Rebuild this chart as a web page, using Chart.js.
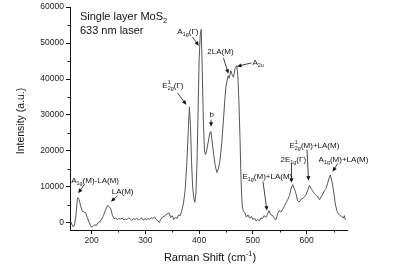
<!DOCTYPE html>
<html>
<head>
<meta charset="utf-8">
<script src="https://cdn.jsdelivr.net/npm/chart.js@4.4.0/dist/chart.umd.min.js"></script>
<style>
  html, body { margin: 0; padding: 0; background: #fff; }
  #wrap { width: 400px; height: 269px; position: relative; }
</style>
</head>
<body>
<div id="wrap"><canvas id="raman"></canvas></div>
<script>
// ── Data ────────────────────────────────────────
const shift = [
  162, 165, 168, 171, 174, 177, 180, 183, 186, 189, 192, 196, 200, 203, 206, 209,
  212, 215, 218, 222, 226, 230, 233, 236, 239, 242, 245, 248, 251, 254, 257, 260,
  263, 266, 269, 272, 275, 278, 281, 284, 287, 290, 293, 296, 299, 302, 305, 308,
  311, 314, 317, 320, 323, 326, 329, 332, 335, 338, 341, 344, 347, 350, 353, 356,
  359, 362, 365, 368, 371, 374, 377, 380, 382, 384, 386, 388, 390, 392, 394, 396,
  398, 400, 402, 404, 406, 408, 410, 412, 414, 417, 420, 422, 424, 427, 430, 433,
  436, 439, 442, 445, 448, 450, 452, 454, 456, 459, 462, 464, 467, 470, 472, 474,
  476, 478, 480, 482, 485, 488, 491, 494, 497, 500, 503, 506, 509, 512, 515, 518,
  521, 524, 527, 530, 533, 537, 540, 543, 546, 549, 552, 556, 559, 562, 565, 568,
  571, 574, 577, 580, 583, 586, 590, 594, 598, 602, 605, 608, 611, 614, 618, 621,
  624, 627, 630, 633, 636, 639, 642, 644, 647, 650, 653, 656, 659, 662, 665, 668,
  670, 672
];
const intensity = [
  200, -1000, -800, 2000, 7000, 6500, 4500, 3200, 3000, 2800, 1500, 0, -1200, -1000, -500, -800,
  0, 200, 800, 2000, 3500, 4800, 4500, 3800, 2000, 1100, 1300, 900, 1200, 1000, 1300, 800,
  1100, 900, 1400, 1000, 700, 1200, 900, 1300, 800, 1000, 1400, 700, 1100, 900, 1200, 1000,
  1400, 1200, 1600, 1000, 600, 100, 1000, 1600, 1800, 2200, 2500, 2800, 1500, 2000, 900, 1500,
  1200, 2200, 2000, 3500, 5500, 9000, 16000, 26000, 32200, 27000, 17000, 10000, 7000, 5700, 8000, 16000,
  30000, 45000, 52000, 53800, 42000, 28000, 20000, 19000, 20000, 22500, 25000, 25400, 23000, 19000, 16000, 14000,
  15000, 17500, 22000, 28000, 34500, 38000, 39500, 40900, 40200, 42300, 41000, 40500, 43000, 43700, 41000, 34000,
  24000, 12000, 5000, 3400, 2800, 1600, 2200, 1300, 1800, 900, 1300, 500, 900, 600, 1400, 1200,
  2000, 1500, 2300, 3400, 2300, 2000, 1100, 900, 2500, 3400, 3000, 3900, 4800, 5700, 6500, 7600,
  9500, 10600, 9500, 8200, 6200, 5800, 6600, 6900, 7600, 9000, 10400, 9600, 8900, 8200, 7600, 7200,
  6400, 7200, 8000, 9000, 9500, 11000, 12500, 13300, 11500, 8900, 5500, 3400, 2500, 2000, 1800, 1300,
  2000, 800
];
const xTicks      = [200, 300, 400, 500, 600];
const xMinorTicks = [250, 350, 450, 550, 650];
const yTicks      = [0, 10000, 20000, 30000, 40000, 50000, 60000];
const yMinorTicks = [5000, 15000, 25000, 35000, 45000, 55000];

// ── Annotations (data coords) ───────────────────
const FONT = "'Liberation Sans', Arial, sans-serif";
const notes = [
  { x: 359.6, y: 52560, parts: [['A', 'n'], ['1g', 'sub'], ['(Γ)', 'n']],                      arrow: [387.5, 51730, 399.6, 49230] },
  { x: 331.6, y: 37560, parts: [['E', 'n'], [['1', '2g'], 'ss'], ['(Γ)', 'n']],               arrow: [359.6, 36170, 376.3, 32830] },
  { x: 415.4, y: 47000, parts: [['2LA(M)', 'n']],                                              arrow: [445.2, 45890, 454.5, 41450] },
  { x: 499.2, y: 43950, parts: [['A', 'n'], ['2u', 'sub']],                                    arrow: [497.4, 44480, 470.4, 43500] },
  { x: 419.2, y: 29500, parts: [['b', 'n']],                                                   arrow: [422.3, 28670, 422.3, 26720] },
  { x: 480.6, y: 12280, parts: [['E', 'n'], ['1g', 'sub'], ['(M)+LA(M)', 'n']],                arrow: [518.8, 11450, 526.2, 3390] },
  { x: 551.4, y: 16950, parts: [['2E', 'n'], ['1g', 'sub'], ['(Γ)', 'n']],                     arrow: [571.8, 16400, 571.8, 11170] },
  { x: 568.1, y: 20890, parts: [['E', 'n'], [['1', '2g'], 'ss'], ['(M)+LA(M)', 'n']],          arrow: [600.7, 20340, 603.5, 11720] },
  { x: 622.1, y: 17000, parts: [['A', 'n'], ['1g', 'sub'], ['(M)+LA(M)', 'n']],                arrow: [657.5, 16450, 648.2, 14230] },
  { x: 162.2, y: 11170, parts: [['A', 'n'], ['1g', 'sub'], ['(M)-LA(M)', 'n']],                arrow: [186.4, 10610, 175.2, 8250] },
  { x: 237.6, y: 8110,  parts: [['LA(M)', 'n']],                                               arrow: [248.4, 7560, 236.1, 5890] },
];
const titleLines = [
  { x: 178.4, y: 56310, parts: [['Single layer MoS', 'n'], ['2', 'sub']] },
  { x: 178.4, y: 52560, parts: [['633 nm laser', 'n']] },
];

function drawRich(ctx, x, y, parts, size) {
  let cx = x;
  ctx.textBaseline = 'alphabetic';
  ctx.textAlign = 'left';
  parts.forEach(([t, m]) => {
    if (m === 'n') {
      ctx.font = size + 'px ' + FONT;
      ctx.fillText(t, cx, y);
      cx += ctx.measureText(t).width;
    } else if (m === 'sub') {
      ctx.font = (size * 0.68) + 'px ' + FONT;
      ctx.fillText(t, cx, y + size * 0.28);
      cx += ctx.measureText(t).width;
    } else if (m === 'sup') {
      ctx.font = (size * 0.68) + 'px ' + FONT;
      ctx.fillText(t, cx, y - size * 0.42);
      cx += ctx.measureText(t).width;
    } else if (m === 'ss') {
      ctx.font = (size * 0.68) + 'px ' + FONT;
      ctx.fillText(t[0], cx, y - size * 0.42);
      ctx.fillText(t[1], cx, y + size * 0.28);
      cx += Math.max(ctx.measureText(t[0]).width, ctx.measureText(t[1]).width);
    }
  });
  return cx;
}

function drawArrow(ctx, x1, y1, x2, y2) {
  const ang = Math.atan2(y2 - y1, x2 - x1);
  const len = 4.5, wid = 2;
  ctx.beginPath();
  ctx.moveTo(x1, y1);
  ctx.lineTo(x2 - Math.cos(ang) * len * 0.8, y2 - Math.sin(ang) * len * 0.8);
  ctx.stroke();
  ctx.beginPath();
  ctx.moveTo(x2, y2);
  ctx.lineTo(x2 - Math.cos(ang) * len - Math.sin(ang) * wid, y2 - Math.sin(ang) * len + Math.cos(ang) * wid);
  ctx.lineTo(x2 - Math.cos(ang) * len + Math.sin(ang) * wid, y2 - Math.sin(ang) * len - Math.cos(ang) * wid);
  ctx.closePath();
  ctx.fill();
}

// ── Plugins ─────────────────────────────────────
const decor = {
  id: 'decor',
  afterDraw(chart) {
    const { ctx, chartArea: a, scales: { x, y } } = chart;
    ctx.save();
    ctx.strokeStyle = '#111';
    ctx.fillStyle = '#111';
    ctx.lineWidth = 1;
    // minor ticks
    ctx.beginPath();
    xMinorTicks.forEach(v => {
      const px = Math.round(x.getPixelForValue(v)) + 0.5;
      ctx.moveTo(px, a.bottom); ctx.lineTo(px, a.bottom + 2.5);
    });
    yMinorTicks.forEach(v => {
      const py = Math.round(y.getPixelForValue(v)) + 0.5;
      ctx.moveTo(a.left - 2.5, py); ctx.lineTo(a.left, py);
    });
    ctx.stroke();

    // title
    titleLines.forEach(t => drawRich(ctx, x.getPixelForValue(t.x), y.getPixelForValue(t.y), t.parts, 11));

    // peak labels
    ctx.lineWidth = 0.8;
    notes.forEach(n => {
      drawRich(ctx, x.getPixelForValue(n.x), y.getPixelForValue(n.y), n.parts, 8);
      const [ax1, ay1, ax2, ay2] = n.arrow;
      drawArrow(ctx, x.getPixelForValue(ax1), y.getPixelForValue(ay1), x.getPixelForValue(ax2), y.getPixelForValue(ay2));
    });

    // axis titles
    const xt = 'Raman Shift (cm';
    ctx.font = '11px ' + FONT;
    const w1 = ctx.measureText(xt).width;
    ctx.font = '7.5px ' + FONT;
    const w2 = ctx.measureText('-1').width;
    ctx.font = '11px ' + FONT;
    const w3 = ctx.measureText(')').width;
    const cx = 210 - (w1 + w2 + w3) / 2;
    drawRich(ctx, cx, 261, [[xt, 'n'], ['-1', 'sup'], [')', 'n']], 11);

    ctx.translate(24, 121);
    ctx.rotate(-Math.PI / 2);
    ctx.font = '10.5px ' + FONT;
    ctx.textAlign = 'center';
    ctx.fillText('Intensity (a.u.)', 0, 0);
    ctx.restore();
  }
};

// ── Chart ───────────────────────────────────────
const points = shift.map((s, i) => ({ x: s, y: intensity[i] }));

new Chart(document.getElementById('raman'), {
  type: 'line',
  data: {
    datasets: [{
      data:        points,
      borderColor: '#555',
      borderWidth: 1,
      pointRadius: 0,
      tension:     0,
      fill:        false,
    }],
  },
  options: {
    responsive:          true,
    maintainAspectRatio: false,
    animation:           false,
    events:              [],
    layout: { padding: { top: 7, right: 53, left: 0, bottom: 0 } },
    plugins: { legend: { display: false }, tooltip: { enabled: false } },
    scales: {
      x: {
        type: 'linear', min: 160, max: 675,
        afterBuildTicks: s => { s.ticks = xTicks.map(v => ({ value: v })); },
        afterFit: s => { s.height = 39; },
        grid:   { drawOnChartArea: false, tickLength: 4, color: '#111' },
        border: { display: true, color: '#111', width: 1 },
        ticks:  { color: '#222', padding: 2, maxRotation: 0, font: { family: FONT, size: 8.5 } },
      },
      y: {
        type: 'linear', min: -2000, max: 60000,
        afterBuildTicks: s => { s.ticks = yTicks.map(v => ({ value: v })); },
        afterFit: s => { s.width = 70; },
        grid:   { drawOnChartArea: false, tickLength: 4, color: '#111' },
        border: { display: true, color: '#111', width: 1 },
        ticks:  { color: '#222', padding: 2, font: { family: FONT, size: 8.5 }, callback: v => String(v) },
      },
    },
  },
  plugins: [decor],
});
</script>
</body>
</html>
